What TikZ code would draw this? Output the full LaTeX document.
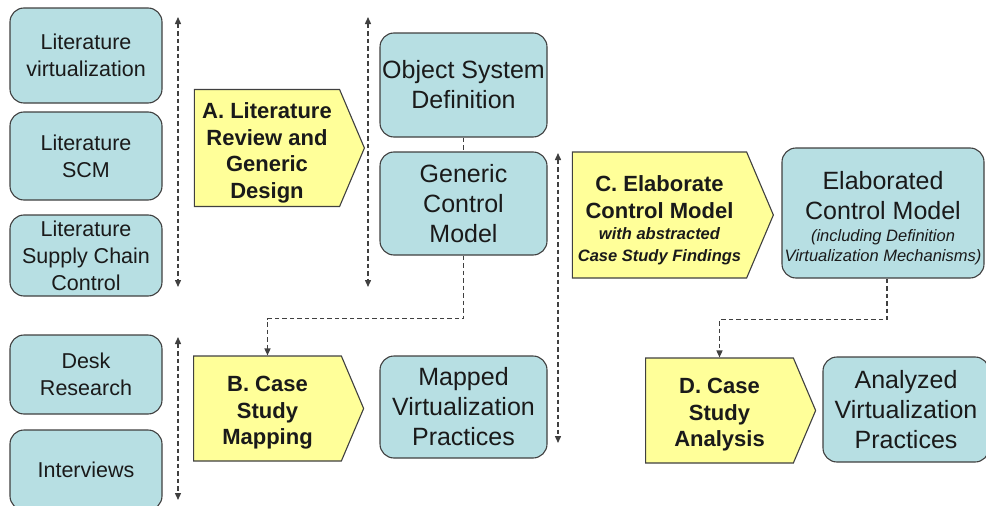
\documentclass[tikz,border=0pt]{standalone}
\usepackage{fontspec}
\setmainfont{Liberation Sans}
\usetikzlibrary{positioning, arrows.meta, shapes.symbols, calc}

\definecolor{boxfill}{HTML}{B7DFE3}
\definecolor{phasefill}{HTML}{FFFF99}
\definecolor{boxline}{HTML}{404040}
\definecolor{inkcol}{HTML}{1A1A1A}

\begin{document}
\begin{tikzpicture}[
    x=1pt, y=-1pt,
    source/.style={rectangle, rounded corners=14pt, draw=boxline, line width=1.1pt, fill=boxfill, text=inkcol, align=center, inner sep=0pt, minimum width=152pt, font=\fontsize{21.5}{27}\selectfont},
    result/.style={source, minimum width=167pt, font=\fontsize{25}{30}\selectfont},
    phase/.style={signal, signal to=east, signal pointer angle=134, draw=boxline, line width=1.1pt, fill=phasefill, text=inkcol, align=center, inner sep=0pt, font=\bfseries\fontsize{22}{26.5}\selectfont},
    link/.style={draw=boxline, line width=1.4pt, dash pattern=on 4.5pt off 3pt},
    flow/.style={link, -{Triangle[length=7pt, width=6pt]}},
    span/.style={link, {Triangle[length=7pt, width=6pt]}-{Triangle[length=7pt, width=6pt]}}
]
    \useasboundingbox (0,0) rectangle (986,506);

    % Sources ===========================
    \node[source, minimum height=95pt] (litvirt) at (86,55.5) {Literature\\virtualization};
    \node[source, minimum height=88pt] (litscm) at (86,156) {Literature\\SCM};
    \node[source, minimum height=81pt] (litscc) at (86,255.5) {Literature\\Supply Chain\\Control};
    \node[source, minimum height=79pt] (desk) at (86,374.5) {Desk\\Research};
    \node[source, minimum height=80pt] (interviews) at (86,470) {Interviews};

    % Phases ===========================
    \node[phase, minimum width=170pt, minimum height=117pt] (phaseA) at (267,148) {\rule{0pt}{26pt}A. Literature\\Review and\\Generic\\Design};
    \node[phase, minimum width=170pt, minimum height=105pt] (phaseB) at (267.5,408.5) {\rule{0pt}{24pt}B. Case\\Study\\Mapping};
    \node[phase, minimum width=201pt, minimum height=126pt] (phaseC) at (659.5,215) {\rule{0pt}{26pt}C. Elaborate\\Control Model\\[-5pt]{\itshape\fontsize{16.5}{21}\selectfont with abstracted}\\[-5pt]{\itshape\fontsize{16.5}{21}\selectfont Case Study Findings}};
    \node[phase, minimum width=170pt, minimum height=105pt] (phaseD) at (719.5,410.5) {\rule{0pt}{24pt}D. Case\\Study\\Analysis};

    % Results ===========================
    \node[result, minimum height=104pt] (osd) at (463.5,85) {Object System\\Definition};
    \node[result, minimum height=103pt] (generic) at (463.5,203.5) {Generic\\Control\\Model};
    \node[result, minimum height=102pt] (mapped) at (463.5,407) {Mapped\\Virtualization\\Practices};
    \node[result, minimum width=202pt, minimum height=130pt] (elab) at (883,213) {\rule{0pt}{28pt}Elaborated\\Control Model\\[-8pt]{\itshape\fontsize{16.5}{20}\selectfont (including Definition}\\[-10pt]{\itshape\fontsize{16.5}{20}\selectfont Virtualization Mechanisms)}};
    \node[result, minimum width=166pt, minimum height=105pt] (analyzed) at (906,409.5) {Analyzed\\Virtualization\\Practices};

    % Span markers ===========================
    \coordinate (litTop) at (178,17);
    \coordinate (litBot) at (178,287);
    \coordinate (designTop) at (368,17);
    \coordinate (designBot) at (368,287);
    \coordinate (caseTop) at (178,337);
    \coordinate (caseBot) at (178,500);
    \coordinate (elabTop) at (558,153);
    \coordinate (elabBot) at (558,443);

    \draw[span] (litTop) -- (litBot);
    \draw[span] (designTop) -- (designBot);
    \draw[span] (caseTop) -- (caseBot);
    \draw[span] (elabTop) -- (elabBot);

    % Connectors ===========================
    \draw[link] (osd) -- (generic);
    \draw[flow] (generic.south) -- ++(0,63) -| (phaseB.north);
    \draw[flow] ([xshift=4pt]elab.south) -- ++(0,41) -| (phaseD.north);

\end{tikzpicture}
\end{document}
